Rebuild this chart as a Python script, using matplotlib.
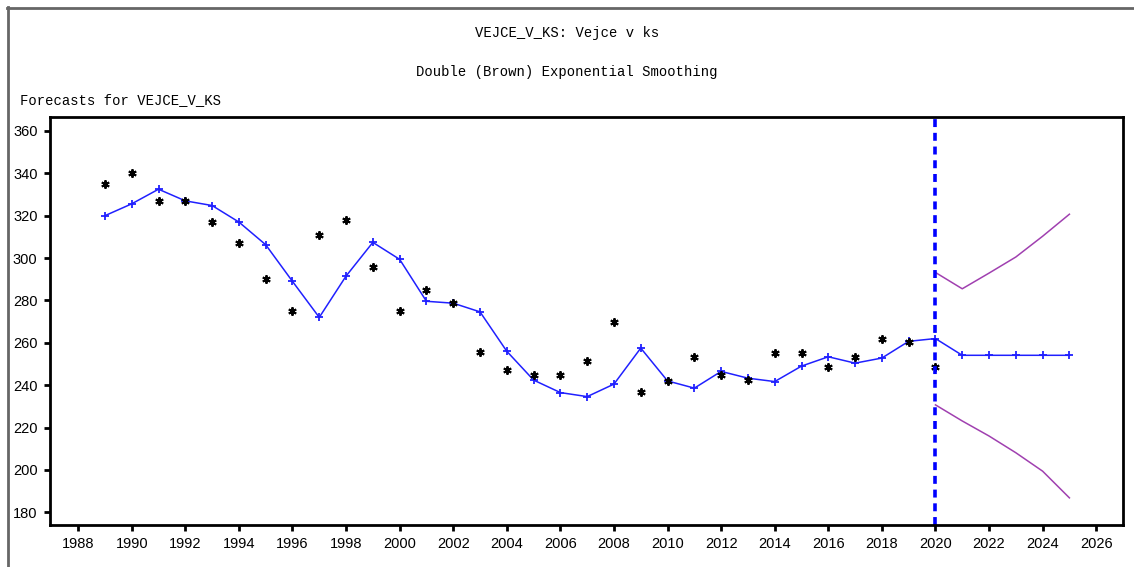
import matplotlib.pyplot as plt
from matplotlib.lines import Line2D

years = list(range(1989, 2021))
actual = [335, 340, 327, 327, 317, 307, 290, 275, 311, 318, 296, 275,
          285, 279, 255.5, 247, 245, 245, 251.5, 270, 237, 242, 253.5, 245,
          242.5, 255, 255, 248.5, 253.5, 262, 260.5, 248.5]

fit_years = list(range(1989, 2026))
fitted = [320, 325.6, 332.5, 327, 324.8, 317, 306.3, 289, 272, 291.5, 307.4, 299.4,
          279.6, 278.7, 274.6, 256, 242.4, 236.5, 234.6, 240.5, 257.5, 242, 238.6, 246.5,
          243.3, 241.7, 249, 253.4, 250.4, 252.8, 260.7, 262,
          254.1, 254.1, 254.1, 254.1, 254.1]

band_years = [2020, 2021, 2022, 2023, 2024, 2025]
upper = [293.2, 285.5, 292.9, 300.5, 310.3, 320.7]
lower = [230.7, 223.1, 216.0, 208.1, 199.4, 186.8]

forecast_start = 2020
xticks = list(range(1988, 2027, 2))
yticks = list(range(180, 361, 20))

fig = plt.figure(figsize=(11.34, 5.67), dpi=100)
ax = fig.add_axes([0.0441, 0.0741, 0.9462, 0.7196])

ax.plot(fit_years, fitted, color='#2020ff', lw=1.1, marker='+', ms=6, mew=1.3)
ax.plot(years, actual, ls='none', marker=(6, 2, 0), ms=6, mew=1.4, color='black')
ax.plot(band_years, upper, color='#a040b0', lw=1.1)
ax.plot(band_years, lower, color='#a040b0', lw=1.1)
ax.axvline(forecast_start, color='#0000ff', lw=2.6, ls=(0, (2.2, 1.6)))

ax.set_xlim(1986.95, 2027.0)
ax.set_ylim(174, 366.6)
ax.set_xticks(xticks)
ax.set_yticks(yticks)
ax.tick_params(direction='out', length=4, width=2, labelsize=10.5, pad=5)
for lab in ax.get_xticklabels() + ax.get_yticklabels():
    lab.set_family('Liberation Sans')
for s in ax.spines.values():
    s.set_linewidth(2)

mono = 'Liberation Mono'
fig.text(0.5, 1 - 33 / 567, 'VEJCE_V_KS: Vejce v ks', ha='center', va='center',
         family=mono, fontsize=10)
fig.text(0.5, 1 - 72 / 567, 'Double (Brown) Exponential Smoothing', ha='center', va='center',
         family=mono, fontsize=10)
fig.text(20 / 1134, 1 - 100 / 567, 'Forecasts for VEJCE_V_KS', ha='left', va='center',
         family=mono, fontsize=10)

# grey window frame
fig.add_artist(Line2D([7 / 1134, 1], [1 - 7.5 / 567, 1 - 7.5 / 567], color='#666666', lw=2))
fig.add_artist(Line2D([7.5 / 1134, 7.5 / 1134], [0, 1 - 7 / 567], color='#666666', lw=2))

plt.savefig('out.png')
